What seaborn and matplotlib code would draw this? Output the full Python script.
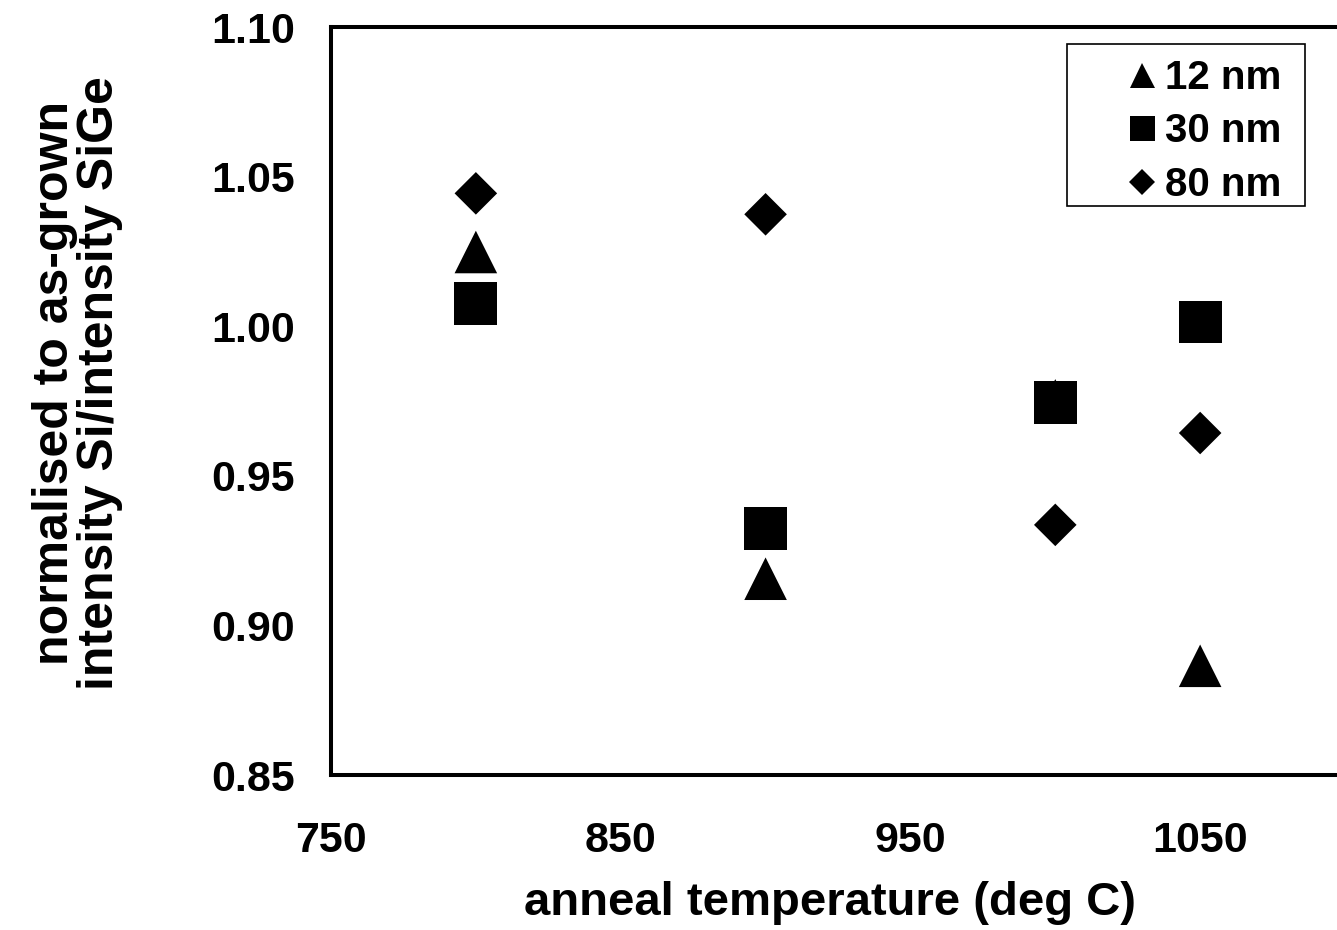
import matplotlib
matplotlib.use("Agg")
import matplotlib.pyplot as plt
from matplotlib.lines import Line2D
from matplotlib.patches import Rectangle
import seaborn as sns
import pandas as pd

temps = [800, 900, 1000, 1050]
vals_12nm = [1.0248, 0.9156, 0.9752, 0.8865]
vals_30nm = [1.0076, 0.9325, 0.9746, 1.0014]
vals_80nm = [1.0444, 1.0374, 0.9336, 0.9643]
series = ["12 nm", "30 nm", "80 nm"]
xticks = [750, 850, 950, 1050]
yticks = [0.85, 0.90, 0.95, 1.00, 1.05, 1.10]

df = pd.DataFrame({
    "temp": temps * 3,
    "val": vals_12nm + vals_30nm + vals_80nm,
    "series": [series[0]] * 4 + [series[1]] * 4 + [series[2]] * 4,
})

sns.set_style("white")
plt.rcParams["font.family"] = ["Liberation Sans", "DejaVu Sans"]
plt.rcParams["font.weight"] = "bold"
plt.rcParams["text.color"] = "black"
plt.rcParams["xtick.color"] = "black"
plt.rcParams["ytick.color"] = "black"
plt.rcParams["axes.labelcolor"] = "black"

W, H = 1337, 930
fig = plt.figure(figsize=(W / 100, H / 100), dpi=100)
ax = fig.add_axes([331 / W, 155 / H, 1014 / W, 748 / H])

markers = {"12 nm": "^", "30 nm": "s", "80 nm": "D"}
sizes = {"12 nm": 940, "30 nm": 950, "80 nm": 470}
sns.scatterplot(data=df, x="temp", y="val", style="series", size="series",
                markers=markers, sizes=sizes, color="black", edgecolor="none",
                linewidth=0, legend=False, ax=ax, zorder=3, clip_on=False)

ax.set_xlim(750, 1100)
ax.set_ylim(0.85, 1.10)
ax.set_xticks(xticks)
ax.set_xticks([800, 900, 1000], minor=True)
ax.set_yticks(yticks)
ax.set_yticklabels([f"{v:.2f}" for v in yticks])
ax.tick_params(axis="both", which="both", direction="in", length=11, width=2.2,
               color="black", labelcolor="black", labelsize=31)
ax.tick_params(axis="x", pad=33)
ax.tick_params(axis="y", pad=26)
for lab in ax.get_xticklabels() + ax.get_yticklabels():
    lab.set_fontweight("bold")
for s in ax.spines.values():
    s.set_linewidth(2.9)
    s.set_color("black")
ax.spines["right"].set_visible(False)
ax.set_xlabel("")
ax.set_ylabel("")

fig.text(830 / W, 1 - 903 / H, "anneal temperature (deg C)", ha="center",
         va="center", fontsize=34, fontweight="bold", color="black")
fig.text(55 / W, 1 - 383 / H, "normalised to as-grown", rotation=90,
         ha="center", va="center", fontsize=36, fontweight="bold", color="black")
fig.text(100 / W, 1 - 383 / H, "intensity Si/intensity SiGe", rotation=90,
         ha="center", va="center", fontsize=36, fontweight="bold", color="black")

# legend frame
fig.patches.append(Rectangle((1067 / W, 1 - 206 / H), (1305 - 1067) / W,
                             (206 - 44) / H, transform=fig.transFigure,
                             fill=False, edgecolor="black", linewidth=1.2,
                             zorder=5))

handles = [Line2D([], [], linestyle="none", marker=markers[s], color="black",
                  markersize=(18 if s != "80 nm" else 13), markeredgewidth=0)
           for s in series]
leg = ax.legend(handles, series, loc="upper right",
                bbox_to_anchor=(1281 / W, 1 - 59 / H),
                bbox_transform=fig.transFigure, frameon=False,
                prop={"size": 29, "weight": "bold"}, handlelength=1.0,
                handletextpad=0.07, borderpad=0, labelspacing=0.38,
                borderaxespad=0)
for t in leg.get_texts():
    t.set_color("black")

fig.savefig("out.png", dpi=100)
